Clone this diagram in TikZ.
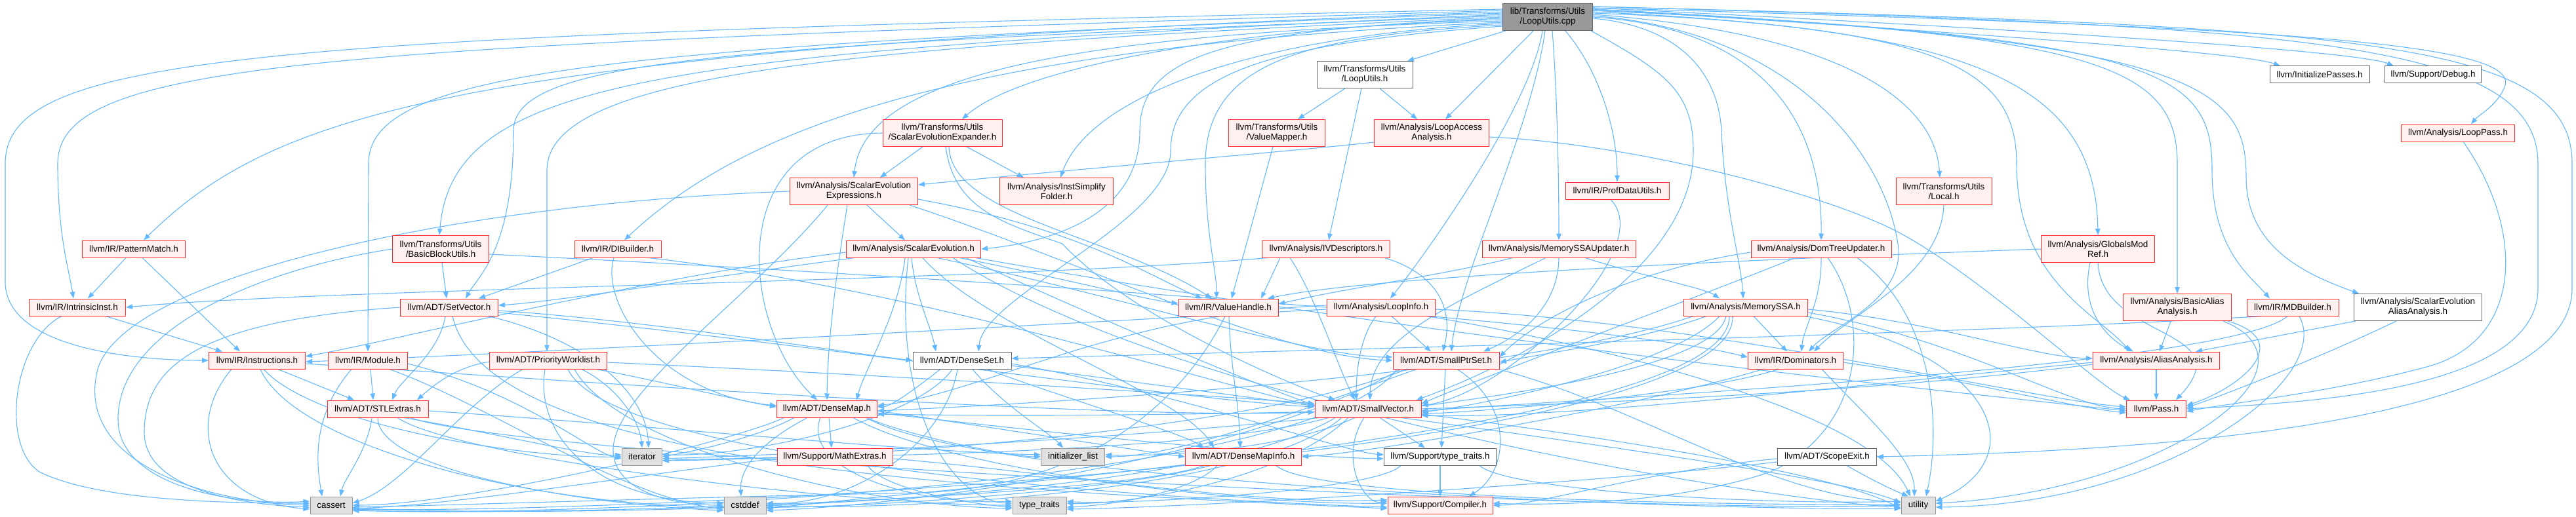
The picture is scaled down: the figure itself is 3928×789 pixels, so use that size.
\documentclass[tikz,border=0pt]{standalone}
\usepackage{fontspec}
\setmainfont{Liberation Sans}
\usetikzlibrary{arrows.meta,backgrounds}
\definecolor{eb}{HTML}{63B8FF}
\definecolor{rb}{HTML}{FF2A2A}
\definecolor{rf}{HTML}{FFF0F0}
\definecolor{gf}{HTML}{E0E0E0}
\definecolor{gb}{HTML}{999999}
\definecolor{db}{HTML}{666666}
\definecolor{rootf}{HTML}{999999}
\newcommand\fs{\fontsize{13.4}{15}\selectfont}
\begin{document}
\begin{tikzpicture}[x=1pt,y=-1pt,
  e/.style={draw=eb, line width=1.1pt, -{Triangle[length=10pt,width=7.5pt]}},
  box/.style={draw, line width=1pt, inner sep=0pt, align=center, font=\fs, minimum height=26},
  rbox/.style={box, draw=rb, fill=rf},
  wbox/.style={box, draw=db, fill=white},
  gbox/.style={box, draw=gb, fill=gf},
  two/.style={minimum height=41}]
\useasboundingbox (0,0) rectangle (3928,789);
% ---------- nodes ----------
\node[box, draw=db, fill=rootf, two, minimum width=137] (root) at (2360,26) {lib/Transforms/Utils\\/LoopUtils.cpp};
\node[wbox, two, minimum width=146] (LUh) at (2081,114) {llvm/Transforms/Utils\\/LoopUtils.h};
\node[wbox, minimum width=152] (IP) at (3537,114) {llvm/InitializePasses.h};
\node[wbox, minimum width=147] (DBG) at (3710,114) {llvm/Support/Debug.h};
\node[rbox, two, minimum width=182] (SEE) at (1437,203) {llvm/Transforms/Utils\\/ScalarEvolutionExpander.h};
\node[rbox, two, minimum width=147] (VM) at (1947,203) {llvm/Transforms/Utils\\/ValueMapper.h};
\node[rbox, two, minimum width=175] (LAA) at (2183,203) {llvm/Analysis/LoopAccess\\Analysis.h};
\node[rbox, minimum width=173] (LP) at (3748,203) {llvm/Analysis/LoopPass.h};
\node[rbox, two, minimum width=195] (SEX) at (1302,292) {llvm/Analysis/ScalarEvolution\\Expressions.h};
\node[rbox, two, minimum width=173] (ISF) at (1611,292) {llvm/Analysis/InstSimplify\\Folder.h};
\node[rbox, minimum width=158] (PDU) at (2466,291) {llvm/IR/ProfDataUtils.h};
\node[rbox, two, minimum width=146] (Local) at (2964,292) {llvm/Transforms/Utils\\/Local.h};
\node[rbox, minimum width=157] (PM) at (204,380) {llvm/IR/PatternMatch.h};
\node[rbox, two, minimum width=147] (BBU) at (672,380) {llvm/Transforms/Utils\\/BasicBlockUtils.h};
\node[rbox, minimum width=132] (DIB) at (942,380) {llvm/IR/DIBuilder.h};
\node[rbox, minimum width=205] (SE) at (1393,380) {llvm/Analysis/ScalarEvolution.h};
\node[rbox, minimum width=195] (IVD) at (2022,380) {llvm/Analysis/IVDescriptors.h};
\node[rbox, minimum width=234] (MSSAU) at (2377,380) {llvm/Analysis/MemorySSAUpdater.h};
\node[rbox, minimum width=214] (DTU) at (2777,380) {llvm/Analysis/DomTreeUpdater.h};
\node[rbox, two, minimum width=173] (GMR) at (3199,380) {llvm/Analysis/GlobalsMod\\Ref.h};
\node[rbox, minimum width=147] (II) at (118,469) {llvm/IR/IntrinsicInst.h};
\node[rbox, minimum width=149] (SV) at (685,469) {llvm/ADT/SetVector.h};
\node[rbox, minimum width=152] (VH) at (1873,469) {llvm/IR/ValueHandle.h};
\node[rbox, minimum width=165] (LI) at (2106,469) {llvm/Analysis/LoopInfo.h};
\node[rbox, minimum width=189] (MSSA) at (2662,469) {llvm/Analysis/MemorySSA.h};
\node[rbox, two, minimum width=165] (BAA) at (3320,469) {llvm/Analysis/BasicAlias\\Analysis.h};
\node[rbox, minimum width=140] (MDB) at (3496,469) {llvm/IR/MDBuilder.h};
\node[wbox, two, minimum width=195] (SEAA) at (3687,469) {llvm/Analysis/ScalarEvolution\\AliasAnalysis.h};
\node[rbox, minimum width=147] (Inst) at (392,550) {llvm/IR/Instructions.h};
\node[rbox, minimum width=121] (Mod) at (561,550) {llvm/IR/Module.h};
\node[rbox, minimum width=179] (PW) at (836,550) {llvm/ADT/PriorityWorklist.h};
\node[wbox, minimum width=150] (DS) at (1467,550) {llvm/ADT/DenseSet.h};
\node[rbox, minimum width=162] (SPS) at (2205,550) {llvm/ADT/SmallPtrSet.h};
\node[rbox, minimum width=145] (Dom) at (2738,550) {llvm/IR/Dominators.h};
\node[rbox, minimum width=193] (AA) at (3288,550) {llvm/Analysis/AliasAnalysis.h};
\node[rbox, minimum width=154] (STL) at (576,624) {llvm/ADT/STLExtras.h};
\node[rbox, minimum width=153] (DM) at (1261,624) {llvm/ADT/DenseMap.h};
\node[rbox, minimum width=162] (SVec) at (2086,624) {llvm/ADT/SmallVector.h};
\node[rbox, minimum width=91] (Pass) at (3288,624) {llvm/Pass.h};
\node[gbox, minimum width=61] (iter) at (979,697) {iterator};
\node[rbox, minimum width=176] (MX) at (1273,697) {llvm/Support/MathExtras.h};
\node[gbox, minimum width=97] (IL) at (1636,697) {initializer\_list};
\node[rbox, minimum width=177] (DMI) at (1896,697) {llvm/ADT/DenseMapInfo.h};
\node[wbox, minimum width=171] (TTh) at (2196,697) {llvm/Support/type\_traits.h};
\node[wbox, minimum width=151] (SExit) at (2786,697) {llvm/ADT/ScopeExit.h};
\node[gbox, minimum width=64] (cassert) at (505,771) {cassert};
\node[gbox, minimum width=64] (cstddef) at (1136,771) {cstddef};
\node[gbox, minimum width=82] (tt) at (1585,771) {type\_traits};
\node[rbox, minimum width=160] (Comp) at (2196,771) {llvm/Support/Compiler.h};
\node[gbox, minimum width=52] (util) at (2925,771) {utility};
% ---------- edges ----------
\begin{pgfonlayer}{background}
\fill[white] (0,0) rectangle (3928,789);
% root, downward
\draw[e] ([xshift=-64]root.south) -- ([xshift=65]LUh.north);
\draw[e] ([xshift=-22]root.south) -- ([xshift=21]LAA.north);
\draw[e] ([xshift=-8]root.south) .. controls (2335,160) and (2180,380) .. ([xshift=14]LI.north);
\draw[e] ([xshift=-4]root.south) .. controls (2335,200) and (2225,420) .. ([xshift=8]SPS.north);
\draw[e] ([xshift=7]root.south) .. controls (2375,150) and (2377,280) .. (MSSAU.north);
\draw[e] ([xshift=27]root.south) .. controls (2440,110) and (2466,200) .. (PDU.north);
\draw[e] ([xshift=-3]root.south east) .. controls (2540,110) and (2582,140) .. (2582,230) .. controls (2582,420) and (2300,560) .. ([xshift=-8]SVec.north east);
% root, left
\draw[e] ([yshift=-4]root.west) .. controls (1900,40) and (1560,100) .. ([xshift=30]SEE.north);
\draw[e] ([yshift=-6]root.west) .. controls (1700,50) and (1320,100) .. (SEX.north);
\draw[e] ([yshift=-10]root.west) .. controls (1900,55) and (1660,150) .. ([xshift=6]ISF.north);
\draw[e] ([yshift=-2]root.west) .. controls (1850,45) and (1738,90) .. (1738,200) .. controls (1738,330) and (1600,370) .. (SE.east);
\draw[e] ([yshift=-12]root.west) .. controls (2000,55) and (1838,90) .. (1838,250) .. controls (1838,360) and (1855,410) .. ([xshift=-18]VH.north);
\draw[e] ([yshift=-14]root.west) .. controls (1950,65) and (1785,110) .. (1785,230) .. controls (1785,340) and (1500,450) .. ([xshift=25]DS.north);
\draw[e] ([yshift=-8]root.west) .. controls (1500,70) and (1150,180) .. ([xshift=10]DIB.north);
\draw[e] (root.west) .. controls (1300,70) and (834,110) .. (834,260) -- ([xshift=-2]PW.north);
\draw[e] ([yshift=2]root.west) .. controls (1100,70) and (783,90) .. (783,200) .. controls (783,380) and (730,420) .. ([xshift=25]SV.north);
\draw[e] ([yshift=4]root.west) .. controls (1000,80) and (690,120) .. ([xshift=-2]BBU.north);
\draw[e] ([yshift=6]root.west) .. controls (900,70) and (562,110) .. (562,250) -- (Mod.north);
\draw[e] ([yshift=8]root.west) .. controls (700,75) and (420,170) .. ([xshift=15]PM.north);
\draw[e] ([yshift=10]root.west) .. controls (500,70) and (88,90) .. (88,250) .. controls (88,360) and (105,410) .. ([xshift=-6]II.north);
\draw[e] ([yshift=12]root.west) .. controls (400,55) and (8,80) .. (8,250) -- (8,430) .. controls (8,530) and (200,550) .. (Inst.west);
% root, right
\draw[e] ([yshift=-2]root.east) .. controls (2560,40) and (2620,110) .. (2625,200) .. controls (2630,320) and (2655,400) .. ([xshift=-4]MSSA.north);
\draw[e] (root.east) .. controls (2650,40) and (2779,150) .. (DTU.north);
\draw[e] ([yshift=2]root.east) .. controls (2750,50) and (2880,250) .. (2895,380) .. controls (2900,460) and (2790,500) .. ([xshift=20]Dom.north);
\draw[e] ([yshift=4]root.east) .. controls (2800,50) and (2950,150) .. ([xshift=-6]Local.north);
\draw[e] ([yshift=6]root.east) .. controls (2950,40) and (3075,100) .. (3075,250) .. controls (3075,430) and (3200,480) .. ([xshift=-40]AA.north);
\draw[e] ([yshift=8]root.east) .. controls (3000,45) and (3195,120) .. (GMR.north);
\draw[e] ([yshift=10]root.east) .. controls (3200,50) and (3320,100) .. (3320,250) -- (BAA.north);
\draw[e] ([yshift=10]root.east) .. controls (3300,55) and (3373,110) .. (3373,260) .. controls (3373,380) and (3430,420) .. ([xshift=-35]MDB.north);
\draw[e] ([yshift=12]root.east) .. controls (3350,60) and (3425,130) .. (3425,270) .. controls (3425,380) and (3520,420) .. ([xshift=-90]SEAA.north);
\draw[e] ([yshift=12]root.east) .. controls (3000,50) and (3420,80) .. ([xshift=-60]IP.north);
\draw[e] ([yshift=14]root.east) .. controls (3200,50) and (3600,80) .. ([xshift=-60]DBG.north);
\draw[e] ([yshift=14]root.east) .. controls (3400,40) and (3840,60) .. (3820,130) .. controls (3810,160) and (3780,175) .. ([xshift=20]LP.north);
\draw[e] ([yshift=16]root.east) .. controls (3500,40) and (3870,60) .. (3870,250) -- (3870,440) .. controls (3870,600) and (3500,615) .. (Pass.east);
\draw[e] ([yshift=16]root.east) .. controls (3600,40) and (3922,60) .. (3922,250) -- (3922,440) .. controls (3922,660) and (3200,690) .. (SExit.east);
% LoopUtils.h
\draw[e] ([xshift=-30]LUh.south) -- ([xshift=32]VM.north);
\draw[e] ([xshift=23]LUh.south) -- ([xshift=-22]LAA.north);
\draw[e] ([xshift=-5]LUh.south) -- ([xshift=4]IVD.north);
% ValueMapper, LAA
\draw[e] ([xshift=-6]VM.south) -- ([xshift=5]VH.north);
\draw[e] ([yshift=-14]LAA.west) .. controls (2000,228) and (1600,262) .. ([yshift=10]SEX.east);
\draw[e] ([yshift=-6]LAA.east) .. controls (2500,220) and (2800,300) .. (2905,360) .. controls (3030,430) and (3200,590) .. ([xshift=-40]Pass.north);
% SCEV expander
\draw[e] ([xshift=-30]SEE.south) -- ([xshift=40]SEX.north);
\draw[e] ([xshift=37]SEE.south) -- ([xshift=-50]ISF.north);
\draw[e] ([xshift=10]SEE.south) .. controls (1450,330) and (1700,360) .. ([xshift=-25]VH.north);
\draw[e] (SEE.west) .. controls (1100,205) and (1130,500) .. ([xshift=-15]DM.north);
\draw[e] ([xshift=5]SEE.south) .. controls (1455,320) and (1530,340) .. (1620,372) .. controls (1720,480) and (1950,580) .. ([xshift=-50]SVec.north);
% SCEV expressions
\draw[e] ([xshift=20]SEX.south) -- ([xshift=-13]SE.north);
\draw[e] ([xshift=-10]SEX.south) .. controls (1275,420) and (1262,520) .. (DM.north);
\draw[e] ([xshift=85]SEX.south) .. controls (1650,400) and (1950,545) .. (SPS.west);
\draw[e] ([yshift=-12]SEX.east) .. controls (1650,350) and (1750,420) .. ([xshift=-40]VH.north);
\draw[e] (SEX.west) .. controls (700,310) and (200,420) .. (150,560) .. controls (110,700) and (300,766) .. (cassert.west);
\draw[e] ([xshift=-40]SEX.south) .. controls (1150,450) and (930,600) .. (935,690) .. controls (940,760) and (1050,771) .. (cstddef.west);
% SCEV
\draw[e] ([xshift=-13]SE.south) .. controls (1370,480) and (1320,560) .. ([xshift=45]DM.north);
\draw[e] ([xshift=-3]SE.south) .. controls (1395,450) and (1420,500) .. ([xshift=-40]DS.north);
\draw[e] ([xshift=14]SE.south) .. controls (1500,500) and (1800,600) .. ([xshift=-45]DMI.north);
\draw[e] ([xshift=36]SE.south) .. controls (1700,450) and (2000,545) .. ([yshift=5]SPS.west);
\draw[e] ([xshift=70]SE.south) .. controls (1600,420) and (1750,458) .. ([yshift=6]VH.west);
\draw[e] ([xshift=-90]SE.south) .. controls (1100,420) and (850,460) .. ([yshift=3]SV.east);
\draw[e] ([yshift=-5]SE.west) .. controls (1000,420) and (600,520) .. ([yshift=6]Inst.east);
\draw[e] ([xshift=95]SE.south) .. controls (2200,520) and (3000,600) .. ([yshift=-3]Pass.west);
\draw[e] ([xshift=60]SE.south) .. controls (1800,620) and (2700,765) .. ([yshift=-3]util.west);
\draw[e] ([xshift=-8]SE.south) .. controls (1360,620) and (1450,765) .. ([yshift=3]tt.west);
\draw[e] ([xshift=80]SE.south) .. controls (1750,520) and (1950,600) .. ([yshift=6]SVec.west);
% IVDescriptors
\draw[e] ([xshift=10]IVD.south west) .. controls (1500,430) and (500,440) .. (II.east);
\draw[e] ([xshift=-55]IVD.south) .. controls (2005,450) and (2040,560) .. ([xshift=-20]SVec.north);
\draw[e] ([xshift=89]IVD.south) .. controls (2200,420) and (2215,480) .. ([xshift=-5]SPS.north);
\draw[e] ([xshift=-70]IVD.south) -- ([xshift=50]VH.north);
% ProfDataUtils
\draw[e] ([xshift=-10]PDU.south) .. controls (2530,380) and (2300,600) .. ([yshift=5]SVec.east);
% MemorySSAUpdater
\draw[e] ([xshift=-70]MSSAU.south) .. controls (2200,420) and (2050,440) .. ([yshift=5]VH.east);
\draw[e] ([xshift=-20]MSSAU.south) .. controls (2200,470) and (2090,520) .. ([xshift=3]SVec.north);
\draw[e] (MSSAU.south) .. controls (2376,480) and (2300,520) .. ([xshift=57]SPS.north);
\draw[e] ([xshift=40]MSSAU.south) .. controls (2500,420) and (2600,440) .. ([xshift=-40]MSSA.north);
% DomTreeUpdater
\draw[e] (DTU.south) .. controls (2778,460) and (2750,500) .. ([xshift=9]Dom.north);
\draw[e] ([yshift=-5]DTU.west) .. controls (2500,410) and (2350,480) .. ([yshift=5]SPS.east);
\draw[e] ([xshift=-40]DTU.south) .. controls (2650,430) and (2300,560) .. ([yshift=8]SVec.east);
\draw[e] ([xshift=10]DTU.south) .. controls (2850,480) and (2850,650) .. (2700,720) .. controls (2550,771) and (2350,771) .. ([yshift=3]Comp.east);
\draw[e] ([xshift=55]DTU.south) .. controls (2950,480) and (2960,650) .. ([xshift=12]util.north);
% Local
\draw[e] (Local.south) .. controls (2960,420) and (2820,480) .. ([xshift=28]Dom.north);
% GlobalsModRef
\draw[e] (GMR.west) .. controls (2700,395) and (2100,420) .. ([xshift=60]VH.north);
\draw[e] ([xshift=-12]GMR.south) .. controls (3170,480) and (3220,520) .. ([xshift=-35]AA.north);
\draw[e] (GMR.south) .. controls (3205,520) and (3420,500) .. ([xshift=30]Pass.north);
% BasicAA, MDBuilder, SCEVAA, LoopPass
\draw[e] ([xshift=-10]BAA.south) -- ([xshift=5]AA.north);
\draw[e] ([xshift=77]BAA.south) .. controls (3500,520) and (3420,590) .. ([yshift=5]Pass.east);
\draw[e] ([xshift=70]BAA.south) .. controls (3560,560) and (3300,750) .. ([yshift=3]util.east);
\draw[e] ([xshift=-45]MDB.south) .. controls (3000,510) and (1800,540) .. ([yshift=3]DS.east);
\draw[e] ([xshift=-8]MDB.south) .. controls (3400,560) and (2400,610) .. ([yshift=-3]SVec.east);
\draw[e] ([xshift=10]MDB.south) .. controls (3560,580) and (3300,771) .. ([yshift=-3]util.east);
\draw[e] ([xshift=-95]SEAA.south) -- ([xshift=60]AA.north);
\draw[e] ([xshift=-33]SEAA.south) .. controls (3550,540) and (3400,600) .. ([yshift=2]Pass.east);
\draw[e] ([xshift=8]LP.south) .. controls (3850,350) and (3850,520) .. (3700,560) .. controls (3550,600) and (3400,615) .. ([yshift=-4]Pass.east);
% PatternMatch, BBU, DIBuilder
\draw[e] ([xshift=-12]PM.south) -- ([xshift=16]II.north);
\draw[e] ([xshift=13]PM.south) -- ([xshift=-26]Inst.north);
\draw[e] ([xshift=2]BBU.south) -- ([xshift=-4]SV.north);
\draw[e] (BBU.west) .. controls (400,410) and (180,500) .. (180,640) .. controls (180,740) and (350,772) .. ([yshift=6]cassert.west);
\draw[e] ([yshift=-8]BBU.east) .. controls (1200,410) and (2400,480) .. ([yshift=5]Dom.west);
\draw[e] ([xshift=-38]DIB.south) -- ([xshift=45]SV.north);
\draw[e] ([xshift=-6]DIB.south) .. controls (915,460) and (1000,600) .. ([yshift=5]DM.west);
\draw[e] ([xshift=47]DIB.south) .. controls (1400,440) and (1900,600) .. ([yshift=5]SVec.west);
% IntrinsicInst
\draw[e] ([xshift=43]II.south) -- ([xshift=-53]Inst.north);
\draw[e] ([xshift=-24]II.south) .. controls (20,520) and (0,680) .. (60,720) .. controls (150,765) and (350,768) .. ([yshift=3]cassert.west);
% SetVector
\draw[e] ([xshift=-6]SV.south) .. controls (670,540) and (610,580) .. ([xshift=22]STL.north);
\draw[e] (SV.west) .. controls (300,490) and (220,560) .. (220,660) .. controls (220,750) and (380,771) .. ([yshift=-3]cassert.west);
\draw[e] ([yshift=-5]SV.east) .. controls (1000,490) and (1300,540) .. (DS.west);
\draw[e] ([yshift=-8]SV.east) .. controls (1200,520) and (1800,610) .. ([yshift=3]SVec.west);
\draw[e] ([xshift=60]SV.south) .. controls (900,520) and (985,600) .. ([xshift=10]iter.north);
\draw[e] ([xshift=5]SV.south) .. controls (740,700) and (1400,745) .. ([yshift=-5]Comp.west);
% ValueHandle
\draw[e] ([xshift=1]VH.south) .. controls (1876,560) and (1890,620) .. ([xshift=-5]DMI.north);
\draw[e] ([xshift=-5]VH.south) .. controls (1800,620) and (1650,745) .. (1400,752) .. controls (1000,760) and (700,771) .. ([yshift=-3]cassert.east);
% LoopInfo
\draw[e] ([xshift=-8]LI.south) .. controls (2070,520) and (2068,580) .. ([xshift=-18]SVec.north);
\draw[e] ([xshift=16]LI.south) -- ([xshift=-23]SPS.north);
\draw[e] ([yshift=-3]LI.west) .. controls (1500,500) and (800,540) .. ([yshift=-2]Inst.east);
\draw[e] ([yshift=-3]LI.east) .. controls (2600,490) and (3100,610) .. ([yshift=3]Pass.west);
\draw[e] ([xshift=70]LI.south) .. controls (2400,520) and (2850,620) .. ([xshift=-12]util.north);
\draw[e] ([yshift=3]LI.west) .. controls (1700,480) and (1500,600) .. ([yshift=5]DM.east);
% MemorySSA
\draw[e] ([xshift=12]MSSA.south) -- ([xshift=-13]Dom.north);
\draw[e] ([yshift=-3]MSSA.east) .. controls (2950,490) and (3100,545) .. ([yshift=3]AA.west);
\draw[e] ([yshift=-8]MSSA.east) .. controls (3000,520) and (3150,620) .. (Pass.west);
\draw[e] ([xshift=90]MSSA.south) .. controls (3050,540) and (3100,700) .. ([yshift=6]util.east);
\draw[e] ([xshift=-60]MSSA.south) .. controls (2500,520) and (2350,540) .. ([yshift=-3]SPS.east);
\draw[e] ([xshift=-40]MSSA.south) .. controls (2550,560) and (2250,620) .. ([yshift=-5]SVec.east);
\draw[e] ([xshift=-80]MSSA.south) .. controls (2300,580) and (1500,620) .. ([yshift=-3]DM.east);
\draw[e] ([xshift=-25]MSSA.south) .. controls (2640,650) and (1600,730) .. ([yshift=-5]cstddef.east);
\draw[e] ([xshift=-30]MSSA.south) .. controls (2600,640) and (1300,690) .. ([yshift=-3]iter.east);
\draw[e] ([xshift=-20]MSSA.south) .. controls (2650,700) and (1000,785) .. ([yshift=-6]cassert.east);
% Instructions
\draw[e] ([xshift=32]Inst.south) -- ([xshift=-36]STL.north);
\draw[e] ([xshift=-39]Inst.south) .. controls (280,650) and (320,765) .. ([yshift=-6]cassert.west);
\draw[e] ([xshift=5]Inst.south) .. controls (450,680) and (800,770) .. ([yshift=-3]cstddef.west);
\draw[e] ([xshift=10]Inst.south) .. controls (480,650) and (800,700) .. (iter.west);
\draw[e] ([yshift=-5]Inst.east) .. controls (1000,590) and (1700,640) .. ([yshift=-5]SVec.west);
% Module
\draw[e] ([xshift=4]Mod.south) -- ([xshift=-7]STL.north);
\draw[e] ([xshift=-25]Mod.south) .. controls (470,640) and (485,720) .. ([xshift=-14]cassert.north);
\draw[e] ([xshift=33]Mod.south) .. controls (750,620) and (950,760) .. ([yshift=-6]cstddef.west);
\draw[e] ([yshift=-5]Mod.east) .. controls (800,600) and (900,690) .. ([yshift=-3]iter.west);
% PriorityWorklist
\draw[e] ([xshift=73]PW.south) .. controls (1000,580) and (1120,610) .. ([yshift=3]DM.west);
\draw[e] ([yshift=-2]PW.west) .. controls (700,560) and (670,580) .. ([xshift=60]STL.north);
\draw[e] ([yshift=-3]PW.east) .. controls (1300,570) and (1800,600) .. ([yshift=8]SVec.west);
\draw[e] ([xshift=51]PW.south) .. controls (940,590) and (975,640) .. (iter.north);
\draw[e] ([xshift=-39]PW.south) .. controls (700,620) and (620,740) .. ([yshift=3]cassert.east);
\draw[e] ([xshift=-5]PW.south) .. controls (815,660) and (900,765) .. ([yshift=3]cstddef.west);
\draw[e] ([xshift=30]PW.south) .. controls (930,700) and (1700,760) .. ([yshift=-3]Comp.west);
\draw[e] ([xshift=40]PW.south) .. controls (940,680) and (1300,771) .. ([yshift=-5]tt.west);
% DenseSet
\draw[e] ([xshift=-33]DS.south) .. controls (1400,590) and (1360,620) .. ([yshift=3]DM.east);
\draw[e] ([xshift=39]DS.south) .. controls (1600,600) and (1800,660) .. ([xshift=-60]DMI.north);
\draw[e] ([yshift=-5]DS.east) .. controls (1800,600) and (2050,690) .. ([yshift=3]TTh.west);
\draw[e] ([xshift=16]DS.south) .. controls (1530,620) and (1600,660) .. ([xshift=-15]IL.north);
\draw[e] ([xshift=-7]DS.south) .. controls (1440,680) and (1300,771) .. ([yshift=3]cstddef.east);
\draw[e] ([xshift=-15]DS.south) .. controls (1400,640) and (1150,697) .. ([yshift=3]iter.east);
\draw[e] ([yshift=-8]DS.east) .. controls (2000,620) and (2800,720) .. ([yshift=3]util.west);
% SmallPtrSet
\draw[e] ([xshift=-1]SPS.south) -- ([xshift=2]TTh.north);
\draw[e] ([xshift=17]SPS.south) .. controls (2310,620) and (2300,720) .. ([xshift=44]Comp.north);
\draw[e] ([xshift=-45]SPS.south) .. controls (2000,620) and (1800,697) .. (IL.east);
\draw[e] ([xshift=-60]SPS.south) .. controls (1900,660) and (1300,700) .. ([yshift=-6]iter.east);
\draw[e] ([xshift=80]SPS.south) .. controls (2500,620) and (2700,760) .. ([yshift=5]util.west);
\draw[e] ([xshift=-70]SPS.south) .. controls (1900,700) and (1400,771) .. ([yshift=-8]cstddef.east);
\draw[e] ([xshift=-75]SPS.south) .. controls (2000,740) and (900,790) .. ([yshift=-8]cassert.east);
% Dominators
\draw[e] ([xshift=-50]Dom.south) .. controls (2500,620) and (2100,690) .. (DMI.east);
\draw[e] ([xshift=-26]Dom.south) .. controls (2600,600) and (2300,625) .. ([yshift=-8]SVec.east);
\draw[e] ([yshift=-3]Dom.east) .. controls (3000,580) and (3150,620) .. ([yshift=-6]Pass.west);
\draw[e] ([xshift=40]Dom.south) .. controls (2850,640) and (2920,700) .. ([xshift=-6]util.north);
% AliasAnalysis
\draw[e] (AA.south) -- (Pass.north);
\draw[e] ([yshift=-3]AA.west) .. controls (2900,580) and (2400,640) .. ([yshift=-10]SVec.east);
\draw[e] ([yshift=-6]AA.west) .. controls (2700,620) and (1800,640) .. ([yshift=-8]DM.east);
% STLExtras
\draw[e] ([xshift=-9]STL.south) .. controls (560,690) and (525,730) .. ([xshift=14]cassert.north);
\draw[e] (STL.south) .. controls (576,720) and (900,771) .. ([yshift=-8]cstddef.west);
\draw[e] ([yshift=-3]STL.east) .. controls (1000,650) and (1400,690) .. ([yshift=3]IL.west);
\draw[e] ([xshift=40]STL.south) .. controls (750,660) and (900,697) .. ([yshift=3]iter.west);
\draw[e] ([xshift=30]STL.south) .. controls (700,700) and (1300,771) .. (tt.west);
\draw[e] ([xshift=50]STL.south) .. controls (800,700) and (2500,785) .. (util.west);
% DenseMap
\draw[e] ([xshift=3]DM.south) -- ([xshift=-5]MX.north);
\draw[e] ([yshift=-3]DM.east) .. controls (1500,650) and (1750,690) .. (DMI.west);
\draw[e] ([yshift=-6]DM.east) .. controls (1600,660) and (1950,697) .. ([yshift=-3]TTh.west);
\draw[e] ([xshift=60]DM.south) .. controls (1400,670) and (1550,697) .. (IL.west);
\draw[e] ([xshift=-50]DM.south) .. controls (1150,670) and (1050,690) .. (iter.east);
\draw[e] ([xshift=-30]DM.south) .. controls (1150,680) and (1128,720) .. ([xshift=-6]cstddef.north);
\draw[e] ([xshift=-65]DM.south) .. controls (1100,680) and (700,771) .. (cassert.east);
\draw[e] ([xshift=40]DM.south) .. controls (1450,720) and (1900,771) .. ([yshift=3]Comp.west);
\draw[e] ([xshift=-10]DM.south) .. controls (1220,720) and (1400,771) .. ([yshift=6]tt.west);
\draw[e] ([xshift=60]DM.south) .. controls (1500,740) and (2600,780) .. ([yshift=-5]util.west);
% SmallVector
\draw[e] ([xshift=18]SVec.south) -- ([xshift=-23]TTh.north);
\draw[e] ([xshift=-6]SVec.south) .. controls (2040,700) and (2080,771) .. ([yshift=6]Comp.west);
\draw[e] ([xshift=-20]SVec.south) .. controls (1950,690) and (1750,697) .. ([yshift=3]IL.east);
\draw[e] ([xshift=-30]SVec.south) .. controls (1950,740) and (1700,771) .. ([yshift=3]tt.east);
\draw[e] ([xshift=-40]SVec.south) .. controls (1900,760) and (1300,780) .. (cstddef.east);
\draw[e] ([xshift=-50]SVec.south) .. controls (1800,780) and (800,790) .. ([yshift=-4]cassert.east);
\draw[e] ([xshift=-60]SVec.south) .. controls (1800,700) and (1100,697) .. ([yshift=-6]iter.east);
\draw[e] ([yshift=-8]SVec.east) .. controls (2400,660) and (2800,720) .. ([yshift=-6]util.west);
% MathExtras, DenseMapInfo, type_traits.h, ScopeExit
\draw[e] ([yshift=-3]MX.west) .. controls (1000,720) and (700,771) .. ([yshift=-5]cassert.east);
\draw[e] ([xshift=50]MX.south) .. controls (1350,750) and (1500,771) .. ([yshift=-3]tt.west);
\draw[e] ([yshift=-3]MX.east) .. controls (1600,720) and (1900,771) .. ([yshift=8]Comp.west);
\draw[e] ([xshift=-40]DMI.south) .. controls (1820,750) and (1700,771) .. ([yshift=-3]tt.east);
\draw[e] ([xshift=-60]DMI.south) .. controls (1700,760) and (800,790) .. ([yshift=-7]cassert.east);
\draw[e] ([xshift=-50]DMI.south) .. controls (1700,750) and (1300,775) .. ([yshift=-3]cstddef.east);
\draw[e] ([xshift=50]DMI.south) .. controls (2000,760) and (2600,771) .. ([yshift=1]util.west);
\draw[e] (TTh.south) -- (Comp.north);
\draw[e] ([xshift=-60]TTh.south) .. controls (2100,750) and (1700,771) .. ([yshift=6]tt.east);
\draw[e] ([xshift=60]TTh.south) .. controls (2300,750) and (2700,771) .. ([yshift=6]util.west);
\draw[e] ([xshift=30]SExit.south) .. controls (2850,730) and (2880,745) .. ([xshift=-15]util.north);
\draw[e] ([yshift=-3]SExit.west) .. controls (2500,720) and (2350,771) .. (Comp.east);
\draw[e] ([yshift=-8]SExit.west) .. controls (2400,740) and (1800,775) .. ([yshift=-6]tt.east);
\end{pgfonlayer}
\end{tikzpicture}
\end{document}
